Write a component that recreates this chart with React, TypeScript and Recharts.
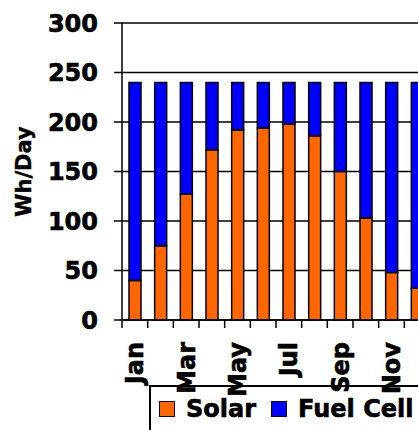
import React from 'react';
import { BarChart, Bar, XAxis, YAxis, CartesianGrid, Legend } from 'recharts';

const months = ['Jan', 'Feb', 'Mar', 'Apr', 'May', 'Jun', 'Jul', 'Aug', 'Sep', 'Oct', 'Nov', 'Dec'];
const solar = [40, 75, 127, 172, 192, 194, 198, 186, 150, 103, 48, 32];
const fuelCell = [200, 165, 113, 68, 48, 46, 42, 54, 90, 137, 192, 208];
const yTicks = [0, 50, 100, 150, 200, 250, 300];
const seriesOrder = ['Solar', 'Fuel Cell'];

const data = months.map((m, i) => ({ month: m, Solar: solar[i], 'Fuel Cell': fuelCell[i] }));

const FONT = '"DejaVu Sans", Verdana, sans-serif';

const MonthTick = (props: any) => {
  const { x, y, payload, index } = props;
  const half = payload && payload.offset ? payload.offset : 12.8;
  const lx = x - half;
  return (
    <g>
      <line x1={lx} x2={lx} y1={y - 22} y2={y - 14} stroke="#000" strokeWidth={1.5} />
      {index % 2 === 0 && (
        <text
          x={x}
          y={y}
          transform={`rotate(-90, ${x}, ${y})`}
          textAnchor="end"
          dy="0.35em"
          fontSize={24}
          fontWeight="bold"
          fontFamily={FONT}
          fill="#000"
          stroke="#000"
          strokeWidth={0.6}
        >
          {payload.value}
        </text>
      )}
    </g>
  );
};

const YLabel = (props: any) => {
  const vb = props.viewBox || { x: 0, y: 23, width: 122, height: 297 };
  const cx = vb.x + 24;
  const cy = vb.y + vb.height / 2;
  return (
    <text
      x={cx}
      y={cy}
      transform={`rotate(-90, ${cx}, ${cy})`}
      textAnchor="middle"
      dominantBaseline="central"
      fontSize={21}
      fontWeight="bold"
      fontFamily={FONT}
      fill="#000"
      stroke="#000"
      strokeWidth={0.4}
    >
      Wh/Day
    </text>
  );
};

const LegendBox = (props: any) => {
  const items = [...(props.payload || [])].sort(
    (a: any, b: any) => seriesOrder.indexOf(a.value) - seriesOrder.indexOf(b.value)
  );
  return (
    <div
      style={{
        border: '2px solid #000',
        boxSizing: 'border-box',
        width: 300,
        height: 60,
        paddingLeft: 8,
        paddingTop: 10,
        background: 'transparent',
        fontFamily: FONT,
      }}
    >
      <div style={{ display: 'flex', alignItems: 'center', height: 24 }}>
        {items.map((it: any, i: number) => (
          <div key={i} style={{ display: 'flex', alignItems: 'center', marginRight: 15 }}>
            <span
              style={{
                display: 'inline-block',
                width: 16,
                height: 16,
                boxSizing: 'border-box',
                background: it.color,
                border: '1.5px solid #000',
                marginRight: 11,
              }}
            />
            <span
              style={{
                fontSize: 24,
                fontWeight: 'bold',
                lineHeight: '24px',
                color: '#000',
                WebkitTextStroke: '0.6px #000',
              }}
            >
              {it.value}
            </span>
          </div>
        ))}
      </div>
    </div>
  );
};

export default function App() {
  return (
    <div style={{ position: 'fixed', left: 0, top: 0, width: 418, height: 430, overflow: 'hidden', background: '#fff' }}>
      <BarChart width={460} height={430} data={data} margin={{ top: 23, right: 30, left: 0, bottom: 0 }}>
        <CartesianGrid vertical={false} stroke="#000" strokeWidth={1.5} />
        <XAxis
          dataKey="month"
          interval={0}
          height={110}
          tickLine={false}
          axisLine={{ stroke: '#000', strokeWidth: 1.5 }}
          tickSize={8}
          tickMargin={14}
          tick={<MonthTick />}
        />
        <YAxis
          width={122}
          domain={[0, 300]}
          ticks={yTicks}
          interval={0}
          tickSize={8}
          tickMargin={16}
          axisLine={{ stroke: '#000', strokeWidth: 1.5 }}
          tickLine={{ stroke: '#000', strokeWidth: 1.5 }}
          tick={{ fill: '#000', stroke: '#000', strokeWidth: 0.6, fontSize: 24, fontWeight: 'bold', fontFamily: FONT }}
          label={<YLabel />}
        />
        <Legend
          verticalAlign="middle"
          layout="horizontal"
          content={<LegendBox />}
          wrapperStyle={{ left: 149, top: 385, width: 300, height: 60 }}
        />
        <Bar dataKey="Solar" stackId="a" fill="#FF6600" stroke="#000" strokeWidth={1.5} barSize={12} isAnimationActive={false} />
        <Bar dataKey="Fuel Cell" stackId="a" fill="#0000FF" stroke="#000" strokeWidth={1.5} barSize={12} isAnimationActive={false} />
      </BarChart>
    </div>
  );
}
